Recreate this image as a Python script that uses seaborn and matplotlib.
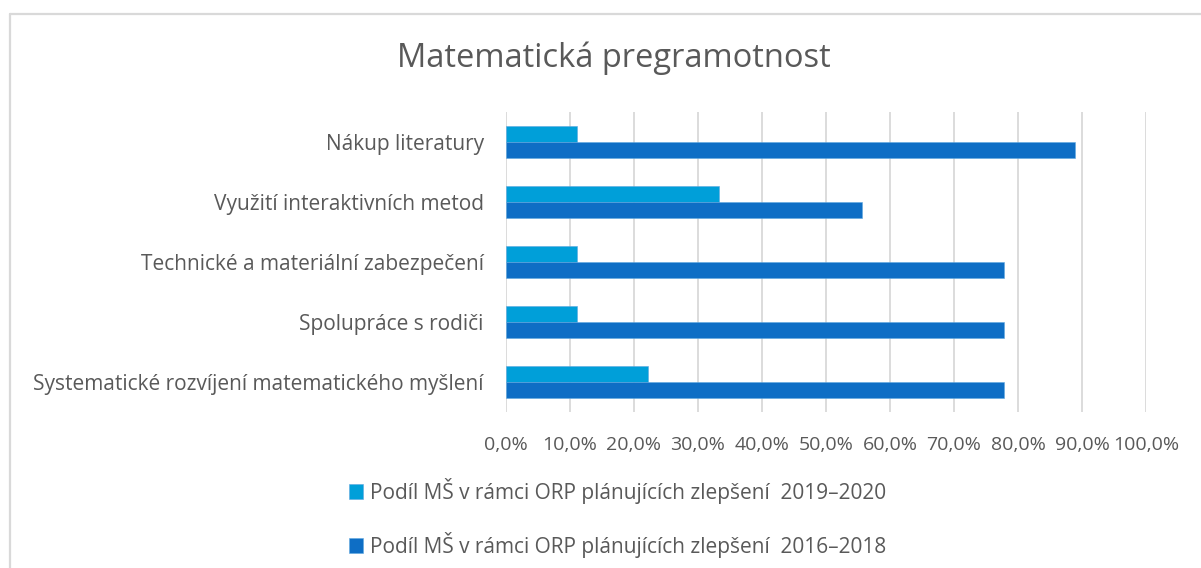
import matplotlib.pyplot as plt
import pandas as pd
import seaborn as sns
from matplotlib.lines import Line2D
from matplotlib.ticker import FuncFormatter

categories = [
    "Nákup literatury",
    "Využití interaktivních metod",
    "Technické a materiální zabezpečení",
    "Spolupráce s rodiči",
    "Systematické rozvíjení matematického myšlení",
]
series_names = [
    "Podíl MŠ v rámci ORP plánujících zlepšení  2019–2020",
    "Podíl MŠ v rámci ORP plánujících zlepšení  2016–2018",
]
values_2019_2020 = [0.111, 0.333, 0.111, 0.111, 0.222]
values_2016_2018 = [0.889, 0.556, 0.778, 0.778, 0.778]
xticks = [i / 10 for i in range(11)]

colors = ["#009FD9", "#0E6EC5"]
text_color = "#595959"
grid_color = "#D9D9D9"


def build_frame():
    rows = []
    for name, vals in zip(series_names, [values_2019_2020, values_2016_2018]):
        for cat, v in zip(categories, vals):
            rows.append({"category": cat, "series": name, "value": v})
    return pd.DataFrame(rows)


def main():
    df = build_frame()

    sns.set_theme(style="white")
    plt.rcParams["font.family"] = ["Open Sans", "DejaVu Sans"]

    fig = plt.figure(figsize=(12.01, 5.68), dpi=100)
    ax = fig.add_axes([0.4213, 0.2746, 0.9542 - 0.4213, 0.8028 - 0.2746])

    sns.barplot(
        data=df, x="value", y="category", hue="series",
        order=categories, hue_order=series_names, palette=colors,
        saturation=1, width=0.54, edgecolor="#5FA8E0", linewidth=0.4,
        ax=ax, legend=True,
    )

    ax.set_xlim(0, 1.0)
    ax.set_xticks(xticks)
    ax.xaxis.set_major_formatter(
        FuncFormatter(lambda v, _: f"{v * 100:.1f}%".replace(".", ","))
    )
    ax.grid(axis="x", color=grid_color, linewidth=1.3)
    ax.set_axisbelow(True)
    for s in ax.spines.values():
        s.set_visible(False)
    ax.set_xlabel("")
    ax.set_ylabel("")
    ax.tick_params(axis="x", labelsize=14, colors=text_color, pad=17, length=0)
    ax.tick_params(axis="y", labelsize=15, colors=text_color, pad=16, length=0)

    handles, labels = ax.get_legend_handles_labels()
    ax.get_legend().remove()
    fig.legend(
        handles, labels, loc="center", bbox_to_anchor=(0.514, 0.088),
        frameon=False, ncol=1, fontsize=15, labelcolor=text_color,
        handlelength=0.7, handleheight=0.7, handletextpad=0.3,
        labelspacing=1.35,
    )

    fig.text(0.511, 0.897, "Matematická pregramotnost", ha="center",
             va="center", fontsize=23.5, color=text_color)

    # chart border (top and left edges visible)
    fig.add_artist(Line2D([9.5 / 1201, 1.0], [1 - 13.5 / 568] * 2,
                          color=grid_color, linewidth=1.6))
    fig.add_artist(Line2D([9.5 / 1201] * 2, [0.0, 1 - 13.5 / 568],
                          color=grid_color, linewidth=1.6))

    fig.savefig("out.png", dpi=100, facecolor="white")


if __name__ == "__main__":
    main()
